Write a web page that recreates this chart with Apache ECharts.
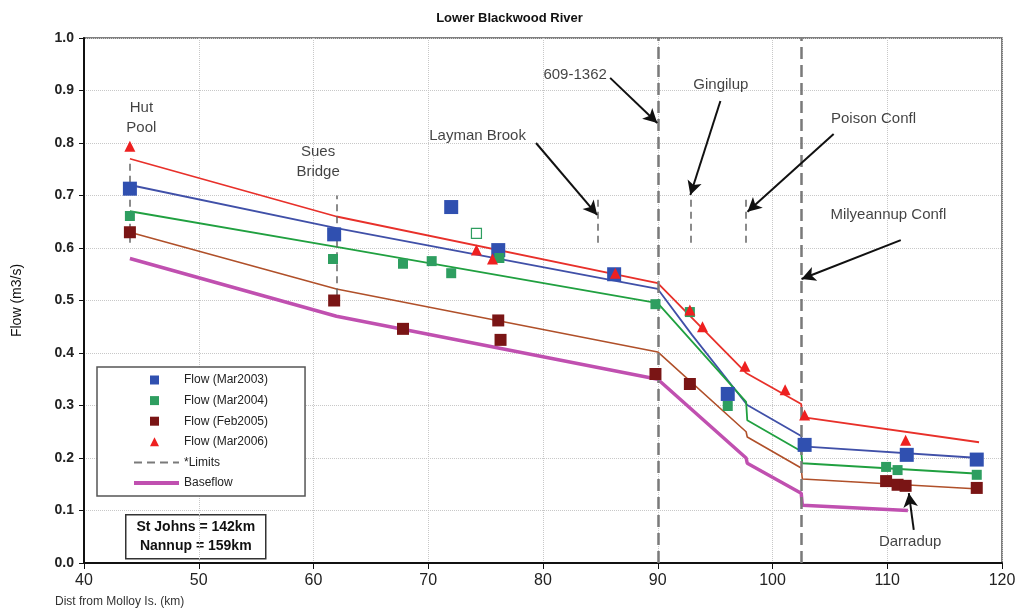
<!DOCTYPE html>
<html lang="en">
<head>
    <meta charset="UTF-8">
    <title>Lower Blackwood River</title>
    <script src="https://cdn.jsdelivr.net/npm/echarts@6/dist/echarts.min.js"></script>
</head>
<body style="margin:0; background:#fff;">
<div id="main" style="width:1019px; height:614px;"></div>
<script type="text/javascript">

    // measured flows: [dist from Molloy Is. (km), flow (m3/s)]
    const flowMar2003 = [[44,0.713],[61.8,0.626],[72,0.678],[76.1,0.596],[86.2,0.55],[96.1,0.322],[102.8,0.225],[111.7,0.206],[117.8,0.197]];
    const flowMar2004 = [[44,0.661],[61.7,0.579],[67.8,0.57],[70.3,0.575],[72,0.552],[74.2,0.628],[76.2,0.581],[89.8,0.493],[92.8,0.478],[96.1,0.299],[109.9,0.183],[110.9,0.177],[117.8,0.168]];
    const flowFeb2005 = [[44,0.63],[61.8,0.5],[67.8,0.446],[76.1,0.462],[76.3,0.425],[89.8,0.36],[92.8,0.341],[109.9,0.156],[110.9,0.149],[111.6,0.147],[117.8,0.143]];
    const flowMar2006 = [[44,0.794],[74.2,0.596],[75.6,0.579],[86.3,0.552],[92.8,0.482],[93.9,0.45],[97.6,0.375],[101.1,0.33],[102.8,0.282],[111.6,0.234]];

    // fitted lines
    const line2003 = [[44,0.72],[62,0.638],[90,0.522],[93,0.434],[97.8,0.301],[102.5,0.242],[102.6,0.222],[118,0.2]];
    const line2004 = [[44,0.67],[62,0.602],[90,0.495],[97.7,0.307],[97.8,0.272],[102.5,0.213],[102.6,0.19],[118,0.17]];
    const line2005 = [[44,0.63],[62,0.522],[90,0.402],[97.7,0.25],[97.8,0.24],[102.5,0.181],[102.6,0.16],[118,0.141]];
    const line2006 = [[44,0.77],[62,0.66],[90,0.533],[97.7,0.362],[102.5,0.303],[102.6,0.278],[118,0.23]];
    const baseflow = [[44,0.58],[62,0.47],[90,0.35],[97.7,0.2],[97.8,0.19],[102.5,0.133],[102.6,0.11],[111.8,0.1]];

    // limits: full height lines and short markers
    const limitFull = [90, 102.5];
    const limitShort = [[44,0.61,0.77],[62,0.51,0.70],[84.8,0.61,0.70],[92.9,0.61,0.70],[97.7,0.61,0.70]];

    // site labels and arrows (tail -> tip)
    const siteNames = ['Hut\nPool','Sues\nBridge','Layman Brook','609-1362','Gingilup','Poison Confl','Milyeannup Confl','Darradup'];
    const sitePos = [[45,0.848],[60.4,0.764],[74.3,0.813],[82.8,0.93],[95.5,0.91],[108.8,0.846],[110.1,0.663],[112,0.04]];
    const arrows = [
        [[85.85,0.924],[89.96,0.838]],
        [[95.46,0.88],[92.84,0.701]],
        [[79.39,0.80],[84.72,0.663]],
        [[105.33,0.817],[97.82,0.669]],
        [[111.18,0.615],[102.53,0.541]],
        [[112.31,0.063],[111.88,0.133]]
    ];

    const font = 'Liberation Sans, Arial, sans-serif';
    // legend icons padded to the 45x10 legend slot so they don't stretch
    const squareIcon = 'path://M0,0L0,0M16,0.5L25,0.5L25,9.5L16,9.5ZM45,10L45,10';
    const triangleIcon = 'path://M0,0L0,0M20.5,0.5L25,9.5L16,9.5ZM45,10L45,10';

    function init(){
        let myChart = echarts.init(document.getElementById('main'));

        let limitLines = limitFull.map(function (x) {
            return {xAxis: x, lineStyle: {width: 2.5, color: '#7a7a7a', type: [12, 6]}};
        });
        limitShort.forEach(function (s) {
            limitLines.push([
                {coord: [s[0], s[1]], lineStyle: {width: 1.5, color: '#666', type: [7, 5]}},
                {coord: [s[0], s[2]]}
            ]);
        });

        const option = {
            animation: false,
            backgroundColor: '#fff',
            title: {
                text: 'Lower Blackwood River',
                left: 'center',
                top: 7,
                textStyle: {fontFamily: font, fontSize: 13, fontWeight: 'bold', color: '#111'}
            },
            grid: {
                left: 84, right: 17, top: 38, bottom: 51,
                show: true, borderColor: '#555', borderWidth: 1.5
            },
            legend: {
                orient: 'vertical',
                left: 97,
                top: 367,
                itemWidth: 45,
                itemHeight: 10,
                itemGap: 8.6,
                padding: [7, 37, 7, 35],
                borderColor: '#555',
                borderWidth: 1.5,
                backgroundColor: '#fff',
                textStyle: {fontFamily: font, fontSize: 12, color: '#222'},
                data: [
                    {name: 'Flow (Mar2003)', icon: squareIcon},
                    {name: 'Flow (Mar2004)', icon: squareIcon},
                    {name: 'Flow (Feb2005)', icon: squareIcon},
                    {name: 'Flow (Mar2006)', icon: triangleIcon},
                    {name: '*Limits', itemStyle: {opacity: 0}, lineStyle: {width: 2}},
                    {name: 'Baseflow', itemStyle: {opacity: 0}, lineStyle: {width: 4}}
                ]
            },
            xAxis: {
                type: 'value',
                min: 40, max: 120, interval: 10,
                axisLine: {onZero: false, lineStyle: {color: '#111', width: 2}},
                axisTick: {length: 6, lineStyle: {color: '#111'}},
                axisLabel: {fontFamily: font, fontSize: 16, color: '#222', margin: 10},
                splitLine: {lineStyle: {color: '#c8c8c8', type: 'dotted'}}
            },
            yAxis: {
                type: 'value',
                min: 0, max: 1, interval: 0.1,
                name: 'Flow (m3/s)',
                nameLocation: 'middle',
                nameGap: 60,
                nameTextStyle: {fontFamily: font, fontSize: 14, color: '#111'},
                axisLine: {show: true, lineStyle: {color: '#111', width: 2}},
                axisTick: {show: true, length: 5, lineStyle: {color: '#111'}},
                axisLabel: {fontFamily: font, fontSize: 14, color: '#222', fontWeight: 'bold', margin: 10,
                    formatter: function (v) { return v.toFixed(1); }},
                splitLine: {lineStyle: {color: '#c8c8c8', type: 'dotted'}}
            },
            graphic: [
                {
                    type: 'text', left: 55, top: 596,
                    style: {text: 'Dist from Molloy Is. (km)', font: '12px ' + font, fill: '#333'}
                },
                {
                    type: 'group', left: 125, top: 514,
                    children: [
                        {type: 'rect', shape: {x: 0, y: 0, width: 140, height: 44},
                            style: {fill: '#fff', stroke: '#333', lineWidth: 1.5}},
                        {type: 'text', x: 70, y: 22,
                            style: {text: 'St Johns = 142km\nNannup = 159km', font: 'bold 14px ' + font,
                                fill: '#111', align: 'center', verticalAlign: 'middle', lineHeight: 19}}
                    ]
                }
            ],
            series: [
                {
                    name: '*Limits', type: 'line', data: [], symbol: 'none',
                    itemStyle: {color: '#7a7a7a'},
                    lineStyle: {color: '#7a7a7a', width: 2, type: [8, 5]},
                    markLine: {silent: true, symbol: 'none', label: {show: false}, data: limitLines}
                },
                {
                    name: 'arrows', type: 'line', data: [], symbol: 'none',
                    markLine: {
                        silent: true, symbol: ['none', 'arrow'], symbolSize: [11, 14],
                        label: {show: false},
                        lineStyle: {color: '#111', width: 2, type: 'solid'},
                        data: arrows.map(function (a) { return [{coord: a[0]}, {coord: a[1]}]; })
                    }
                },
                {name: 'fit2006', type: 'line', data: line2006, symbol: 'none', lineStyle: {color: '#e8302a', width: 1.8}, z: 3},
                {name: 'fit2003', type: 'line', data: line2003, symbol: 'none', lineStyle: {color: '#4050a8', width: 1.8}, z: 3},
                {name: 'fit2004', type: 'line', data: line2004, symbol: 'none', lineStyle: {color: '#20a040', width: 1.8}, z: 3},
                {name: 'fit2005', type: 'line', data: line2005, symbol: 'none', lineStyle: {color: '#b0502a', width: 1.6}, z: 3},
                {name: 'Baseflow', type: 'line', data: baseflow, symbol: 'none', lineStyle: {color: '#c050b0', width: 3.5}, itemStyle: {color: '#c050b0'}, z: 3},
                {
                    name: 'Flow (Mar2003)', type: 'scatter', symbol: 'rect', symbolSize: 14, z: 5,
                    itemStyle: {color: '#3050b0', opacity: 1}, data: flowMar2003
                },
                {
                    name: 'Flow (Mar2004)', type: 'scatter', symbol: 'rect', symbolSize: 10, z: 5,
                    itemStyle: {color: '#2e9e60', opacity: 1},
                    data: flowMar2004.map(function (p) {
                        if (p[0] === 74.2) {
                            return {value: p, itemStyle: {color: '#fff', borderColor: '#2e9e60', borderWidth: 1.2}};
                        }
                        return p;
                    })
                },
                {
                    name: 'Flow (Feb2005)', type: 'scatter', symbol: 'rect', symbolSize: 12, z: 5,
                    itemStyle: {color: '#7a1515', opacity: 1}, data: flowFeb2005
                },
                {
                    name: 'Flow (Mar2006)', type: 'scatter', symbol: 'triangle', symbolSize: 11, z: 6,
                    itemStyle: {color: '#ee2020', opacity: 1}, data: flowMar2006
                },
                {
                    name: 'notes', type: 'scatter', symbolSize: 0, silent: true, z: 7,
                    data: siteNames.map(function (n, i) { return {name: n, value: sitePos[i]}; }),
                    label: {
                        show: true, position: 'inside', formatter: '{b}',
                        fontFamily: font, fontSize: 15, color: '#111', lineHeight: 20
                    }
                }
            ]
        };
        myChart.setOption(option);
    }

    init();
</script>
</body>
</html>
